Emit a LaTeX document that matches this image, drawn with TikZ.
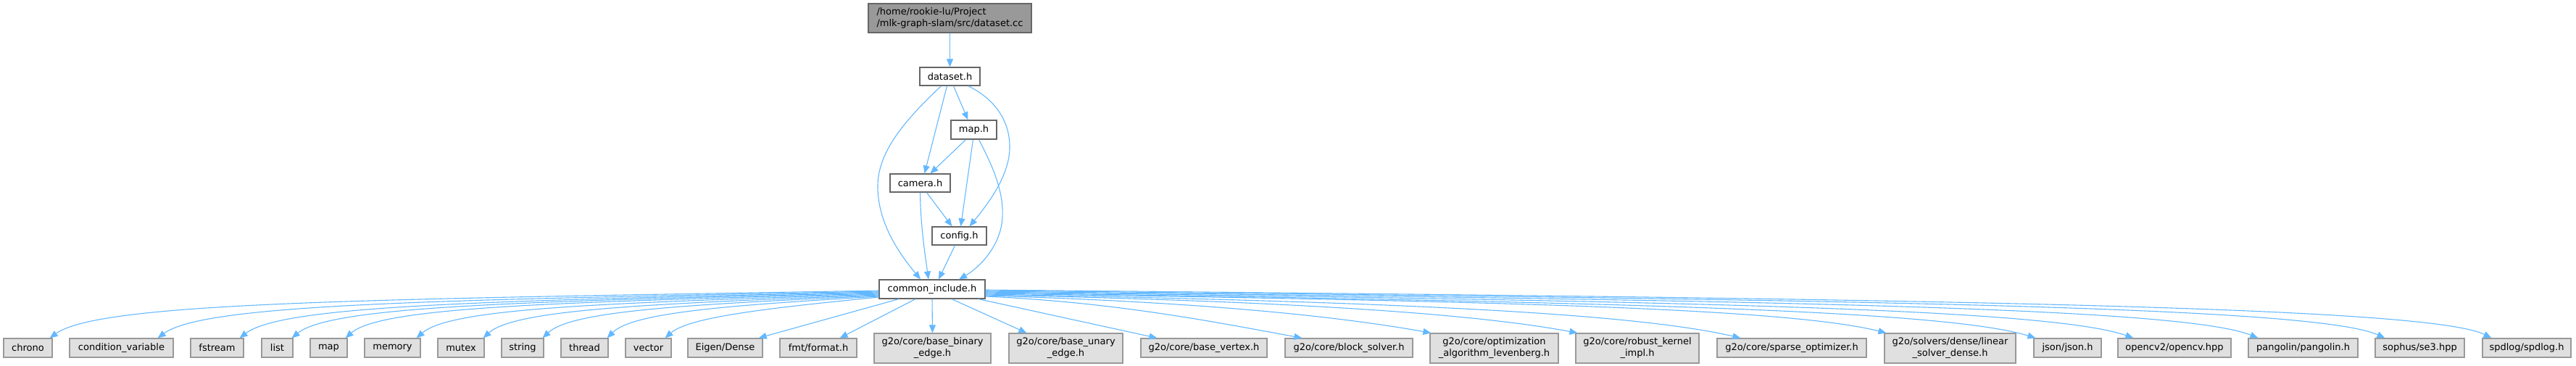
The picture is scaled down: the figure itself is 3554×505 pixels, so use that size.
\documentclass[tikz,border=0pt]{standalone}
\usepackage{fontspec}
\setmainfont{DejaVu Sans}
\usetikzlibrary{arrows.meta,calc}
\definecolor{edgeblue}{HTML}{63B8FF}
\definecolor{rootfill}{HTML}{999999}
\definecolor{darkline}{HTML}{666666}
\definecolor{leaffill}{HTML}{E0E0E0}
\definecolor{leafline}{HTML}{999999}
\begin{document}
\begin{tikzpicture}[x=1pt,y=-1pt,
  every node/.style={font=\fontsize{13}{16}\selectfont, inner xsep=0pt, inner ysep=0pt},
  rootbox/.style={draw=darkline, fill=rootfill, line width=1.2pt, minimum height=40pt, align=left},
  filebox/.style={draw=darkline, fill=white, line width=1.2pt, minimum height=26pt},
  leafbox/.style={draw=leafline, fill=leaffill, line width=1.2pt, minimum height=26pt},
  leaftwo/.style={draw=leafline, fill=leaffill, line width=1.2pt, minimum height=41pt, align=center},
  e/.style={draw=edgeblue, line width=1.1pt, -{Triangle[length=11pt,width=9pt]}}]
\useasboundingbox (0,0) rectangle (3554,505);

% upper nodes
\node[rootbox, minimum width=225pt] (root) at (1310.5,25) {/home/rookie-lu/Project\\/mlk-graph-slam/src/dataset.cc};
\node[filebox, minimum width=83pt, minimum height=25pt] (ds) at (1310.5,105.5) {dataset.h};
\node[filebox, minimum width=63pt] (maph) at (1343.5,179) {map.h};
\node[filebox, minimum width=83pt, minimum height=25pt] (cam) at (1269.5,252.5) {camera.h};
\node[filebox, minimum width=75pt, minimum height=25pt] (cfg) at (1323.5,325.5) {config.h};
\node[filebox, minimum width=146pt] (ci) at (1286,399) {common\_include.h};

% leaves
\node[leafbox, minimum width=67pt] (chrono) at (38.5,480) {chrono};
\node[leafbox, minimum width=143pt] (condvar) at (167.5,480) {condition\_variable};
\node[leafbox, minimum width=73pt] (fstream) at (299.5,480) {fstream};
\node[leafbox, minimum width=43pt] (list) at (382.5,480) {list};
\node[leafbox, minimum width=51pt] (mapstd) at (453.5,480) {map};
\node[leafbox, minimum width=77pt] (memory) at (541.5,480) {memory};
\node[leafbox, minimum width=64pt] (mutex) at (636,480) {mutex};
\node[leafbox, minimum width=58pt] (string) at (721,480) {string};
\node[leafbox, minimum width=65pt] (thread) at (806.5,480) {thread};
\node[leafbox, minimum width=63pt] (vector) at (894.5,480) {vector};
\node[leafbox, minimum width=103pt] (eigen) at (1000.5,480) {Eigen/Dense};
\node[leafbox, minimum width=106pt] (fmt) at (1129,480) {fmt/format.h};
\node[leaftwo, minimum width=161pt] (bbin) at (1286.5,480.5) {g2o/core/base\_binary\\\_edge.h};
\node[leaftwo, minimum width=157pt] (buna) at (1470.5,480.5) {g2o/core/base\_unary\\\_edge.h};
\node[leafbox, minimum width=174pt] (bver) at (1661,480) {g2o/core/base\_vertex.h};
\node[leafbox, minimum width=176pt] (bsol) at (1861,480) {g2o/core/block\_solver.h};
\node[leaftwo, minimum width=177pt] (optlm) at (2061.5,480.5) {g2o/core/optimization\\\_algorithm\_levenberg.h};
\node[leaftwo, minimum width=170pt] (robk) at (2259,480.5) {g2o/core/robust\_kernel\\\_impl.h};
\node[leafbox, minimum width=206pt] (spopt) at (2472,480) {g2o/core/sparse\_optimizer.h};
\node[leaftwo, minimum width=181pt] (lsd) at (2690.5,480.5) {g2o/solvers/dense/linear\\\_solver\_dense.h};
\node[leafbox, minimum width=93pt] (json) at (2852.5,480) {json/json.h};
\node[leafbox, minimum width=156pt] (ocv) at (3000,480) {opencv2/opencv.hpp};
\node[leafbox, minimum width=151pt] (pango) at (3177.5,480) {pangolin/pangolin.h};
\node[leafbox, minimum width=123pt] (sophus) at (3338.5,480) {sophus/se3.hpp};
\node[leafbox, minimum width=122pt] (spdlog) at (3486,480) {spdlog/spdlog.h};

% upper edges
\draw[e] (root) -- (ds);
\draw[e] ([xshift=-12pt]ds.south) .. controls (1255,160) and (1212,205) .. (1211,255)
   .. controls (1210,310) and (1245,355) .. ([xshift=-16pt]ci.north);
\draw[e] ([xshift=-4pt]ds.south) -- ([xshift=6pt]cam.north);
\draw[e] ([xshift=5pt]ds.south) -- ([xshift=-8pt]maph.north);
\draw[e] ([xshift=25pt]ds.south) .. controls (1370,135) and (1394,165) .. (1393,205)
   .. controls (1392,245) and (1360,285) .. ([xshift=14pt]cfg.north);
\draw[e] ([xshift=-11pt]maph.south) -- ([xshift=14pt]cam.north);
\draw[e] ([xshift=-1pt]maph.south) -- ([xshift=2pt]cfg.north);
\draw[e] ([xshift=7pt]maph.south) .. controls (1370,230) and (1385,265) .. (1383,300)
   .. controls (1381,340) and (1350,370) .. ([xshift=37pt]ci.north);
\draw[e] ([xshift=9pt]cam.south) -- ([xshift=-10pt]cfg.north);
\draw[e] (cam.south) .. controls (1270,310) and (1276,350) .. ([xshift=-5pt]ci.north);
\draw[e] ([xshift=-6pt]cfg.south) -- ([xshift=9pt]ci.north);

% left fan
\draw[e] ([yshift=-2pt]ci.west) .. controls +(-700,12) and +(70,-50) .. ([xshift=-4pt]chrono.north east);
\draw[e] ([yshift=-3pt]ci.west) .. controls +(-600,12) and +(65,-48) .. ([xshift=-22pt]condvar.north east);
\draw[e] ([yshift=-4pt]ci.west) .. controls +(-530,12) and +(60,-46) .. ([xshift=-6pt]fstream.north east);
\draw[e] ([yshift=-5pt]ci.west) .. controls +(-480,12) and +(55,-45) .. ([xshift=-2pt]list.north east);
\draw[e] ([yshift=-6pt]ci.west) .. controls +(-430,12) and +(50,-44) .. ([xshift=-3pt]mapstd.north east);
\draw[e] ([yshift=-7pt]ci.west) .. controls +(-370,12) and +(48,-42) .. ([xshift=-6pt]memory.north east);
\draw[e] ([yshift=-8pt]ci.west) .. controls +(-310,12) and +(44,-40) .. ([xshift=-2pt]mutex.north east);
\draw[e] ([yshift=-9pt]ci.west) .. controls +(-260,12) and +(40,-38) .. ([xshift=-2pt]string.north east);
\draw[e] ([yshift=-10pt]ci.west) .. controls +(-200,12) and +(36,-36) .. ([xshift=-2pt]thread.north east);
\draw[e] ([yshift=-11pt]ci.west) .. controls +(-140,14) and +(34,-30) .. ([xshift=-9pt]vector.north east);

% middle
\draw[e] ([xshift=-46pt]ci.south) -- ([xshift=-6pt]eigen.north east);
\draw[e] ([xshift=-23pt]ci.south) -- ([xshift=-24pt]fmt.north east);
\draw[e] (ci.south) -- (bbin.north);
\draw[e] ([xshift=27pt]ci.south) -- ([xshift=25pt]buna.north west);
\draw[e] ([xshift=64pt]ci.south) -- ([xshift=23pt]bver.north west);

% right fan
\draw[e] ([yshift=-10pt]ci.east) .. controls +(180,8) and +(-120,-22) .. ([xshift=24pt]bsol.north west);
\draw[e] ([yshift=-9pt]ci.east) .. controls +(280,8) and +(-140,-25) .. ([xshift=2pt]optlm.north west);
\draw[e] ([yshift=-8pt]ci.east) .. controls +(400,8) and +(-150,-28) .. ([xshift=3pt]robk.north west);
\draw[e] ([yshift=-7pt]ci.east) .. controls +(550,10) and +(-150,-35) .. ([xshift=33pt]spopt.north west);
\draw[e] ([yshift=-6pt]ci.east) .. controls +(680,10) and +(-140,-35) .. ([xshift=3pt]lsd.north west);
\draw[e] ([yshift=-5pt]ci.east) .. controls +(820,12) and +(-130,-40) .. ([xshift=3pt]json.north west);
\draw[e] ([yshift=-4pt]ci.east) .. controls +(920,12) and +(-120,-42) .. ([xshift=22pt]ocv.north west);
\draw[e] ([yshift=-3pt]ci.east) .. controls +(1030,12) and +(-110,-44) .. ([xshift=14pt]pango.north west);
\draw[e] ([yshift=-2pt]ci.east) .. controls +(1150,12) and +(-100,-45) .. ([xshift=14pt]sophus.north west);
\draw[e] ([yshift=-1pt]ci.east) .. controls +(1250,12) and +(-90,-45) .. ([xshift=13pt]spdlog.north west);
\end{tikzpicture}
\end{document}
